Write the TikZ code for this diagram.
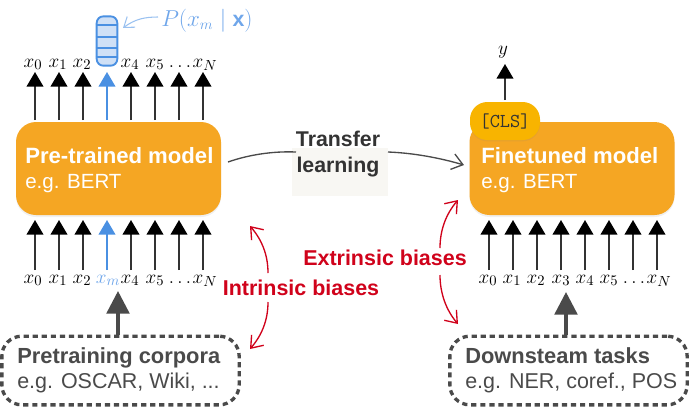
\documentclass[tikz,border=0pt]{standalone}
\usepackage{fontspec}
\setmainfont{Liberation Sans}
\usetikzlibrary{arrows.meta,shadows}
\definecolor{modelc}{HTML}{F5A623}
\definecolor{clsc}{HTML}{F8B400}
\definecolor{bluec}{HTML}{4A90E2}
\definecolor{lightb}{HTML}{CFE0F6}
\definecolor{labelb}{HTML}{6FA6EA}
\definecolor{redc}{HTML}{D0021B}
\definecolor{darkc}{HTML}{4A4A4A}
\definecolor{inkc}{HTML}{333333}
\definecolor{paperc}{HTML}{F8F7F3}
\newcommand{\modelsub}{\fontsize{15.4}{18.6}\selectfont}
\newcommand{\boxsub}{\fontsize{16.1}{18.75}\selectfont}
\tikzset{
  px/.style={x=0.75pt,y=-0.75pt},
  modelbox/.style={rounded corners=15pt,fill=modelc,draw=none,minimum width=153.75pt,minimum height=69.75pt,
    drop shadow={opacity=.12,shadow xshift=0pt,shadow yshift=-1.5pt}},
  modeltext/.style={text=white,align=left,anchor=west,inner sep=0pt,font=\fontsize{16.6}{18.6}\selectfont},
  token/.style={inner sep=0pt,font=\fontsize{15.5}{17}\selectfont,anchor=base},
  tokarrow/.style={draw=inkc,line width=1.5pt,-{Triangle[width=12.5pt,length=11pt,black]}},
  bluearrow/.style={draw=bluec,line width=1.5pt,-{Triangle[width=12.5pt,length=11pt,bluec]}},
  grayarrow/.style={draw=darkc,line width=2.6pt,-{Triangle[width=17pt,length=17pt,darkc]}},
  dashbox/.style={draw=darkc,line width=2.5pt,rounded corners=15pt,dash pattern=on 3.9pt off 2.9pt,minimum width=178pt,minimum height=51.5pt},
  boxtext/.style={text=darkc,align=left,anchor=west,inner sep=0pt,font=\fontsize{16.4}{18.75}\selectfont},
  transferarrow/.style={draw=darkc,line width=1pt,-{Straight Barb[width=12pt,length=8pt,line width=1pt]}},
  redarrow/.style={draw=redc,line width=1pt,-{Straight Barb[width=12pt,length=8pt,line width=1pt]}},
  redlabel/.style={text=redc,font=\bfseries\fontsize{16.1}{18}\selectfont,inner sep=0pt},
}
\begin{document}
\begin{tikzpicture}[px]
\useasboundingbox (0,0) rectangle (690,408);
% models
\node[modelbox] (m1) at (118.5,168.5) {};
\node[modelbox] (m2) at (572,168.5) {};
\node[modeltext] (m1t) at (25,170) {\textbf{Pre-trained model}\\{\modelsub e.g. BERT}};
\node[modeltext] (m2t) at (481,170) {\textbf{Finetuned model}\\{\modelsub e.g. BERT}};
% CLS
\node[rounded corners=13pt,fill=clsc,minimum width=52.5pt,minimum height=28.5pt,inner sep=0pt,
  drop shadow={opacity=.12,shadow xshift=0pt,shadow yshift=-1pt},text=inkc,font=\ttfamily\fontsize{14.8}{16}\selectfont] (cls) at (505,121) {[CLS]};
% tokens
\foreach \i/\x/\l/\t in {0/35/33/x_0,1/59/58/x_1,2/83/82/x_2,4/131/130/x_4,5/155/155/x_5,6/179/180/\ldots,7/203/205/x_N}{
  \node[token] (ta\i) at (\l,67) {$\t$};
  \node[token] (tb\i) at (\l,283) {$\t$};
  \coordinate (tas\i) at (\x,120);
  \coordinate (tae\i) at (\x,72);
  \coordinate (tbs\i) at (\x,270);
  \coordinate (tbe\i) at (\x,220);
  \draw[tokarrow] (tas\i) -- (tae\i);
  \draw[tokarrow] (tbs\i) -- (tbe\i);
}
\node[token,text=labelb] (tbm) at (108,283) {$x_m$};
\coordinate (bas) at (107,120); \coordinate (bae) at (107,72);
\coordinate (bbs) at (107,270); \coordinate (bbe) at (107,220);
\draw[bluearrow] (bas) -- (bae);
\draw[bluearrow] (bbs) -- (bbe);
\foreach \i/\x/\l/\t in {0/489/488/x_0,1/513/512/x_1,2/537/536/x_2,3/561/561/x_3,4/585/585/x_4,5/609/609/x_5,6/633/634/\ldots,7/657/659/x_N}{
  \node[token] (tc\i) at (\l,283) {$\t$};
  \coordinate (tcs\i) at (\x,270);
  \coordinate (tce\i) at (\x,220);
  \draw[tokarrow] (tcs\i) -- (tce\i);
}
% y
\node[token] (y) at (503,54) {$y$};
\coordinate (ys) at (505,100); \coordinate (ye) at (505,64);
\draw[tokarrow] (ys) -- (ye);
% softmax stack
\node[draw=bluec,fill=lightb,line width=1.4pt,rounded corners=5pt,minimum width=15.5pt,minimum height=37pt,inner sep=0pt] (stack) at (107,41) {};
\foreach \yy in {25,37,48,57}{
  \draw[bluec,line width=1.3pt] (stack.west |- 0,\yy) -- (stack.east |- 0,\yy);
}
\node[text=labelb,font=\fontsize{16}{18}\selectfont,anchor=base west,inner sep=0pt] (pl) at (161,26) {$P(x_m \mid \mathbf{x})$};
\coordinate (ps) at (158,17);
\coordinate (pe) at (123,28);
\draw[labelb!70,line width=.8pt,-{Straight Barb[width=10pt,length=7pt,line width=.8pt]}] (ps) .. controls (145,17) and (135,19) .. (pe);
% transfer
\node[fill=paperc,minimum width=72pt,minimum height=36pt,inner sep=0pt] (tbg) at (340,172) {};
\node[text=inkc,align=center,inner sep=0pt,font=\bfseries\fontsize{16}{19.5}\selectfont] (tl) at (338,154) {Transfer\\learning};
\coordinate (tls) at (228,162);
\coordinate (tll) at (296,152);
\coordinate (trs) at (388,152);
\coordinate (tre) at (464,165);
\draw[draw=darkc,line width=1pt] (tls) .. controls (248,155) and (272,151) .. (tll);
\draw[transferarrow] (trs) .. controls (414,153) and (440,158) .. (tre);
% corpus boxes
\node[dashbox] (c1) at (120.5,370.5) {};
\node[dashbox] (c2) at (568.5,370.5) {};
\node[boxtext] (c1t) at (17,370) {\textbf{Pretraining corpora}\\{\boxsub e.g. OSCAR, Wiki, ...}};
\node[boxtext] (c2t) at (465,370) {\textbf{Downsteam tasks}\\{\boxsub e.g. NER, coref., POS}};
\draw[grayarrow] (c1.north -| 118,0) -- (118,291);
\draw[grayarrow] (c2.north -| 566,0) -- (566,292);
% red
\node[redlabel] (ib) at (301,288) {Intrinsic biases};
\node[redlabel] (eb) at (385,258) {Extrinsic biases};
\coordinate (r1a) at (268,273); \coordinate (r1b) at (250,226);
\coordinate (r2a) at (268,302); \coordinate (r2b) at (250,349);
\coordinate (r3a) at (440,248); \coordinate (r3b) at (458,200);
\coordinate (r4a) at (440,275); \coordinate (r4b) at (458,324);
\draw[redarrow] (r1a) .. controls (268,255) and (262,240) .. (r1b);
\draw[redarrow] (r2a) .. controls (268,320) and (262,335) .. (r2b);
\draw[redarrow] (r3a) .. controls (440,230) and (446,214) .. (r3b);
\draw[redarrow] (r4a) .. controls (440,293) and (446,310) .. (r4b);
\end{tikzpicture}
\end{document}
